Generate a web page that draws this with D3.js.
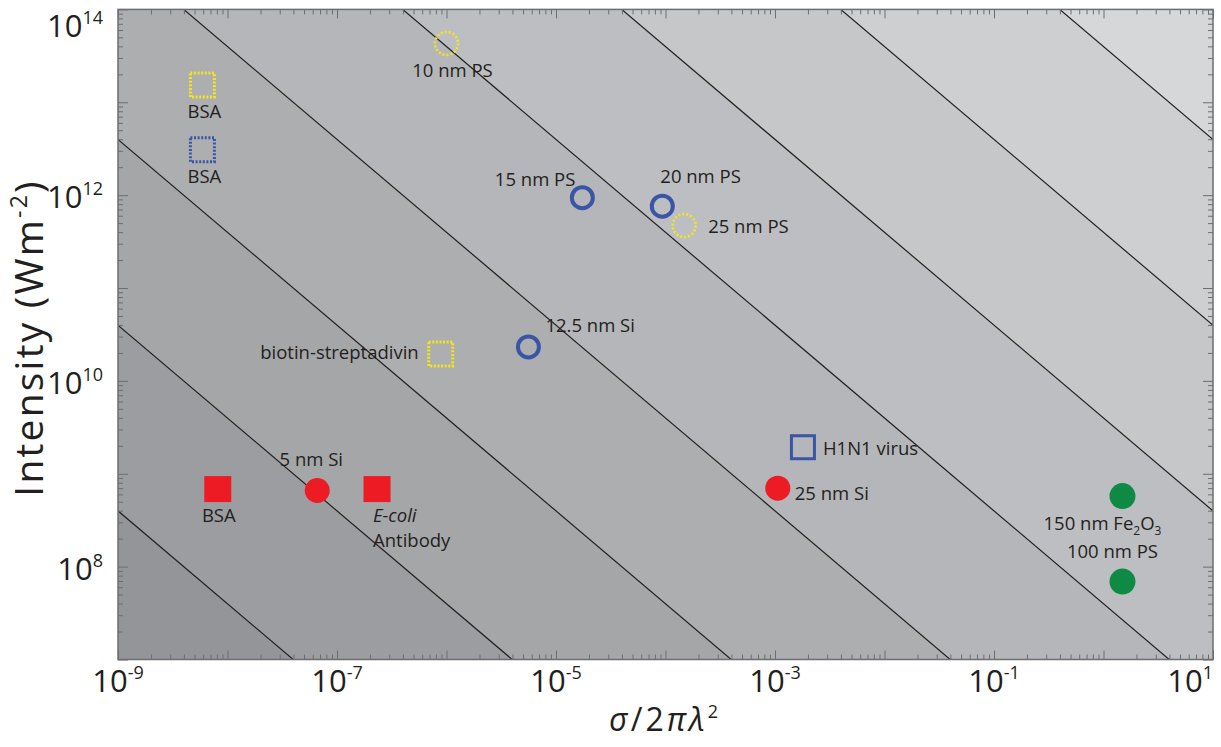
<!DOCTYPE html>
<html>
<head>
<meta charset="utf-8">
<script src="https://cdn.jsdelivr.net/npm/d3@7"></script>
<style>
  body { margin: 0; background: #fff; }
  svg text { font-family: "Open Sans", "Noto Sans", sans-serif; fill: #231f20; }
</style>
</head>
<body>
<svg id="chart" width="1221" height="747"></svg>
<script>
// log10 of the constant I*sigma along each diagonal guide line
var isoLevels = [-0.4, 1.6, 3.6, 5.6, 7.6, 9.6, 11.6, 13.6];

// tick labels (exponents of 10)
var xLabelExps = [-9, -7, -5, -3, -1, 1];
var yLabelExps = [8, 10, 12, 14];

// measured points
var names = ['BSA', 'BSA', '10 nm PS', '15 nm PS', '20 nm PS', '25 nm PS', '12.5 nm Si',
  'biotin-streptadivin', 'BSA', '5 nm Si', 'E-coli Antibody', 'H1N1 virus', '25 nm Si',
  '150 nm Fe2O3', '100 nm PS'];
var kinds = ['yellowDotSquare', 'blueDotSquare', 'yellowDotCircle', 'blueCircle', 'blueCircle',
  'yellowDotCircle', 'blueCircle', 'yellowDotSquare', 'redSquare', 'redCircle', 'redSquare',
  'blueSquare', 'redCircle', 'greenCircle', 'greenCircle'];
var sigma = [5.9e-9, 5.9e-9, 1.0e-6, 1.74e-5, 9.35e-5, 1.48e-4, 5.6e-6,
  8.85e-7, 8.15e-9, 6.6e-8, 2.32e-7, 1.8e-3, 1.06e-3, 1.49, 1.49];
var intensity = [1.53e13, 3.08e12, 4.3e13, 9.4e11, 7.6e11, 4.7e11, 2.32e10,
  1.95e10, 6.84e8, 6.6e8, 6.84e8, 1.93e9, 7.0e8, 5.75e8, 6.9e7];

// label placement relative to marker: [dx, dy, anchor]
var labelPos = [[2, 33, 'middle'], [2, 33, 'middle'], [6, 34, 'middle'], [-7, -12, 'end'],
  [-2, -23, 'start'], [24, 7, 'start'], [17, -15, 'start'], [-22, 5, 'end'], [1, 33, 'middle'],
  [-6, -25, 'middle'], [-4, 33, 'start'], [20, 8, 'start'], [17, 12, 'start'],
  [-20, 34, 'middle'], [-10, -24, 'middle']];

var pLeft = 118, pRight = 1213, pTop = 9.4, pBottom = 659.5;

var svg = d3.select('#chart');

var x = d3.scaleLog().domain([1e-9, 1e1]).range([pLeft, pRight]);
var y = d3.scaleLog().domain([1e7, 1e14]).range([pBottom, pTop]);

svg.append('clipPath').attr('id', 'plotclip')
  .append('rect')
  .attr('x', pLeft).attr('y', pTop)
  .attr('width', pRight - pLeft).attr('height', pBottom - pTop);

var plot = svg.append('g').attr('clip-path', 'url(#plotclip)');

var bandColor = d3.interpolateRgb('#949598', '#d6d7d9');

plot.append('rect')
  .attr('x', pLeft).attr('y', pTop)
  .attr('width', pRight - pLeft).attr('height', pBottom - pTop)
  .attr('fill', bandColor(0));

// each level fills the half plane above its line, lighter each time
var lo = -12, hi = 4;
function halfPlane(c) {
  return [[Math.pow(10, lo), Math.pow(10, c - lo)],
          [Math.pow(10, hi), Math.pow(10, c - hi)],
          [Math.pow(10, hi), 1e30],
          [Math.pow(10, lo), 1e30]];
}
var lineGen = d3.line().x(function(d) { return x(d[0]); }).y(function(d) { return y(d[1]); });

plot.selectAll('path.band').data(isoLevels)
  .enter().append('path')
  .attr('class', 'band')
  .attr('d', function(c) { return lineGen(halfPlane(c)) + 'Z'; })
  .attr('fill', function(c, i) { return bandColor((i + 1) / isoLevels.length); });

plot.selectAll('path.iso').data(isoLevels)
  .enter().append('path')
  .attr('class', 'iso')
  .attr('d', function(c) { return lineGen(halfPlane(c).slice(0, 2)); })
  .attr('fill', 'none')
  .attr('stroke', '#231f20')
  .attr('stroke-width', 1.2);

// ticks, all pointing inward
var xMinor = d3.range(-9, 1).flatMap(function(e) {
  return d3.range(2, 10).map(function(m) { return m * Math.pow(10, e); });
});
var yMinor = d3.range(7, 14).flatMap(function(e) {
  return d3.range(2, 10).map(function(m) { return m * Math.pow(10, e); });
});
var xMajor = d3.range(-9, 2).map(function(e) { return Math.pow(10, e); });
var yMajor = d3.range(7, 15).map(function(e) { return Math.pow(10, e); });

function drawTicks(axisFn, scale, values, size, transform) {
  var g = svg.append('g').attr('transform', transform);
  axisFn(scale).tickValues(values).tickSize(size).tickFormat('')(g);
  g.select('.domain').remove();
  g.selectAll('line').attr('stroke', '#6d6e71').attr('stroke-width', 1);
  return g;
}
drawTicks(d3.axisBottom, x, xMinor, -5, 'translate(0,' + pBottom + ')');
drawTicks(d3.axisBottom, x, xMajor, -9, 'translate(0,' + pBottom + ')');
drawTicks(d3.axisTop, x, xMinor, -5, 'translate(0,' + pTop + ')');
drawTicks(d3.axisTop, x, xMajor, -9, 'translate(0,' + pTop + ')');
drawTicks(d3.axisLeft, y, yMinor, -5, 'translate(' + pLeft + ',0)');
drawTicks(d3.axisLeft, y, yMajor, -10, 'translate(' + pLeft + ',0)');
drawTicks(d3.axisRight, y, yMinor, -5, 'translate(' + pRight + ',0)');
drawTicks(d3.axisRight, y, yMajor, -10, 'translate(' + pRight + ',0)');

svg.append('rect')
  .attr('x', pLeft).attr('y', pTop)
  .attr('width', pRight - pLeft).attr('height', pBottom - pTop)
  .attr('fill', 'none')
  .attr('stroke', '#6d6e71')
  .attr('stroke-width', 1.5);

// power-of-ten labels
function powLabel(sel, e) {
  sel.append('tspan').text('10');
  sel.append('tspan').attr('dy', -13).attr('font-size', 18).text(e);
}

svg.selectAll('text.xlab').data(xLabelExps)
  .enter().append('text')
  .attr('class', 'xlab')
  .attr('x', function(e, i) { return i == xLabelExps.length - 1 ? pRight : x(Math.pow(10, e)); })
  .attr('y', 692)
  .attr('text-anchor', function(e, i) { return i == xLabelExps.length - 1 ? 'end' : 'middle'; })
  .attr('font-size', 31)
  .each(function(e) { powLabel(d3.select(this), e); });

svg.selectAll('text.ylab').data(yLabelExps)
  .enter().append('text')
  .attr('class', 'ylab')
  .attr('x', 103)
  .attr('y', function(e) { return Math.max(y(Math.pow(10, e)) + 13, 37); })
  .attr('text-anchor', 'end')
  .attr('font-size', 31)
  .each(function(e) { powLabel(d3.select(this), e); });

// axis titles
var yt = svg.append('text')
  .attr('transform', 'translate(43,338) rotate(-90)')
  .attr('text-anchor', 'middle')
  .attr('font-size', 39)
  .attr('letter-spacing', 2.2);
yt.append('tspan').text('Intensity (Wm');
yt.append('tspan').attr('dy', -16).attr('font-size', 23).text('-2');
yt.append('tspan').attr('dy', 16).text(')');

var xt = svg.append('text')
  .attr('x', 665).attr('y', 731)
  .attr('text-anchor', 'middle')
  .attr('font-size', 32)
  .attr('letter-spacing', 3);
xt.append('tspan').attr('font-style', 'italic').text('σ');
xt.append('tspan').text('/2');
xt.append('tspan').attr('font-style', 'italic').text('πλ');
xt.append('tspan').attr('dy', -13).attr('font-size', 18).text('2');

// markers
var points = names.map(function(n, i) {
  return { name: n, kind: kinds[i], s: sigma[i], I: intensity[i], pos: labelPos[i] };
});

var colors = { yellow: '#f4e51c', blue: '#3a55a5', red: '#ed1c24', green: '#0f8a44' };

var marks = svg.append('g').selectAll('g.pt').data(points)
  .enter().append('g')
  .attr('class', 'pt')
  .attr('transform', function(d) { return 'translate(' + x(d.s) + ',' + y(d.I) + ')'; });

marks.each(function(d) {
  var g = d3.select(this);
  if (d.kind == 'yellowDotSquare' || d.kind == 'blueDotSquare') {
    g.append('rect').attr('x', -12).attr('y', -12).attr('width', 24).attr('height', 24)
      .attr('fill', 'none')
      .attr('stroke', d.kind == 'yellowDotSquare' ? colors.yellow : colors.blue)
      .attr('stroke-width', 3)
      .attr('stroke-dasharray', '2,1.6');
  } else if (d.kind == 'yellowDotCircle') {
    g.append('circle').attr('r', 11.5)
      .attr('fill', 'none')
      .attr('stroke', colors.yellow)
      .attr('stroke-width', 2.6)
      .attr('stroke-dasharray', '2,2');
  } else if (d.kind == 'blueCircle') {
    g.append('circle').attr('r', 10.5)
      .attr('fill', 'none')
      .attr('stroke', colors.blue)
      .attr('stroke-width', 4);
  } else if (d.kind == 'blueSquare') {
    g.append('rect').attr('x', -11.5).attr('y', -11.5).attr('width', 23).attr('height', 23)
      .attr('fill', 'none')
      .attr('stroke', colors.blue)
      .attr('stroke-width', 3);
  } else if (d.kind == 'redSquare') {
    g.append('rect').attr('x', -13.5).attr('y', -13).attr('width', 27).attr('height', 26)
      .attr('fill', colors.red);
  } else if (d.kind == 'redCircle') {
    g.append('circle').attr('r', 12.5).attr('fill', colors.red);
  } else if (d.kind == 'greenCircle') {
    g.append('circle').attr('r', 13).attr('fill', colors.green);
  }
});

// labels
marks.each(function(d) {
  var g = d3.select(this);
  var t = g.append('text')
    .attr('x', d.pos[0]).attr('y', d.pos[1])
    .attr('text-anchor', d.pos[2])
    .attr('font-size', 18.5);
  if (d.name == 'E-coli Antibody') {
    t.append('tspan').attr('font-style', 'italic').text('E-coli');
    t.append('tspan').attr('x', d.pos[0]).attr('dy', 25).text('Antibody');
  } else if (d.name == '150 nm Fe2O3') {
    t.append('tspan').text('150 nm Fe');
    t.append('tspan').attr('dy', 5).attr('font-size', 12).text('2');
    t.append('tspan').attr('dy', -5).text('O');
    t.append('tspan').attr('dy', 5).attr('font-size', 12).text('3');
  } else {
    t.text(d.name);
  }
});
</script>
</body>
</html>
